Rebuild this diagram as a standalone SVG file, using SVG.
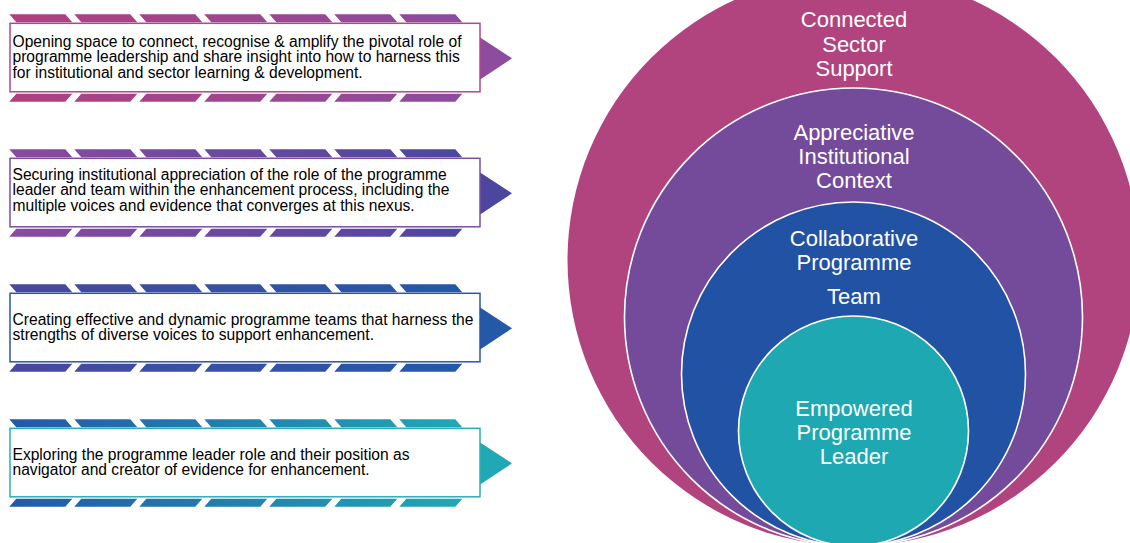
<svg xmlns="http://www.w3.org/2000/svg" xmlns:xlink="http://www.w3.org/1999/xlink" width="1130" height="543" viewBox="0 0 1130 543">
<style>
.box{fill:#fff;stroke-width:1.5}
.t{font-family:"Liberation Sans",Arial,sans-serif;font-size:15.6px;fill:#000}
.c{font-family:"Liberation Sans",Arial,sans-serif;font-size:22px;fill:#fff;text-anchor:middle}
.ring{stroke:#fff;stroke-width:1.6}
</style>
<defs>
<linearGradient id="g1"><stop offset="0" stop-color="#B0407E"/><stop offset="1" stop-color="#8B4C9F"/></linearGradient>
<linearGradient id="g2"><stop offset="0" stop-color="#8A4A9F"/><stop offset="1" stop-color="#4B479F"/></linearGradient>
<linearGradient id="g3"><stop offset="0" stop-color="#4A479E"/><stop offset="1" stop-color="#2259A8"/></linearGradient>
<linearGradient id="g4"><stop offset="0" stop-color="#2259A9"/><stop offset="1" stop-color="#1FA9B4"/></linearGradient>
<path id="stripes" d="M9.3,-9h56l7,8h-56zM74.3,-9h56l7,8h-56zM139.3,-9h56l7,8h-56zM204.3,-9h56l7,8h-56zM269.3,-9h56l7,8h-56zM334.3,-9h56l7,8h-56zM399.3,-9h56l7,8h-56zM16.3,70.5h56l-7,8h-56zM81.3,70.5h56l-7,8h-56zM146.3,70.5h56l-7,8h-56zM211.3,70.5h56l-7,8h-56zM276.3,70.5h56l-7,8h-56zM341.3,70.5h56l-7,8h-56zM406.3,70.5h56l-7,8h-56z"/>
<path id="head" d="M479,13.5L512,35L479,57z"/>
</defs>

<g id="step1" transform="translate(0,23.3)">
<use xlink:href="#stripes" fill="url(#g1)"/>
<use xlink:href="#head" fill="#8E4C9F"/>
<rect class="box" x="10" y="0" width="470" height="68.5" stroke="#B5468A"/>
<text class="t" x="12.5" y="23.4">Opening space to connect, recognise &amp; amplify the pivotal role of</text>
<text class="t" x="12.5" y="39.2">programme leadership and share insight into how to harness this</text>
<text class="t" x="12.5" y="55">for institutional and sector learning &amp; development.</text>
</g>

<g id="step2" transform="translate(0,158.3)">
<use xlink:href="#stripes" fill="url(#g2)"/>
<use xlink:href="#head" fill="#4B479F"/>
<rect class="box" x="10" y="0" width="470" height="68.5" stroke="#7D4E9F"/>
<text class="t" x="12.5" y="21.7">Securing institutional appreciation of the role of the programme</text>
<text class="t" x="12.5" y="37.2">leader and team within the enhancement process, including the</text>
<text class="t" x="12.5" y="52.7">multiple voices and evidence that converges at this nexus.</text>
</g>

<g id="step3" transform="translate(0,293.3)">
<use xlink:href="#stripes" fill="url(#g3)"/>
<use xlink:href="#head" fill="#2459A8"/>
<rect class="box" x="10" y="0" width="470" height="68.5" stroke="#2A57A7"/>
<text class="t" x="12.5" y="31.7">Creating effective and dynamic programme teams that harness the</text>
<text class="t" x="12.5" y="47.2">strengths of diverse voices to support enhancement.</text>
</g>

<g id="step4" transform="translate(0,428.3)">
<use xlink:href="#stripes" fill="url(#g4)"/>
<use xlink:href="#head" fill="#20A9B4"/>
<rect class="box" x="10" y="0" width="470" height="68.5" stroke="#2AAFB9"/>
<text class="t" x="12.5" y="31.7">Exploring the programme leader role and their position as</text>
<text class="t" x="12.5" y="46.9">navigator and creator of evidence for enhancement.</text>
</g>

<g id="sector">
<circle cx="853.5" cy="260" r="286" fill="#B1447F"/>
<text class="c" x="854" y="27">Connected</text>
<text class="c" x="854" y="51.5">Sector</text>
<text class="c" x="854" y="76">Support</text>
</g>
<g id="institution">
<circle class="ring" cx="853.5" cy="317" r="229" fill="#744A9B"/>
<text class="c" x="854" y="140">Appreciative</text>
<text class="c" x="854" y="164">Institutional</text>
<text class="c" x="854" y="188">Context</text>
</g>
<g id="team">
<circle class="ring" cx="853.5" cy="374" r="172" fill="#2252A3"/>
<text class="c" x="854" y="246">Collaborative</text>
<text class="c" x="854" y="270">Programme</text>
<text class="c" x="854" y="303.5">Team</text>
</g>
<g id="leader">
<circle class="ring" cx="853.5" cy="431" r="115" fill="#1EA8B2"/>
<text class="c" x="854" y="416">Empowered</text>
<text class="c" x="854" y="440">Programme</text>
<text class="c" x="854" y="464">Leader</text>
</g>
<g id="connectors"/>
</svg>
